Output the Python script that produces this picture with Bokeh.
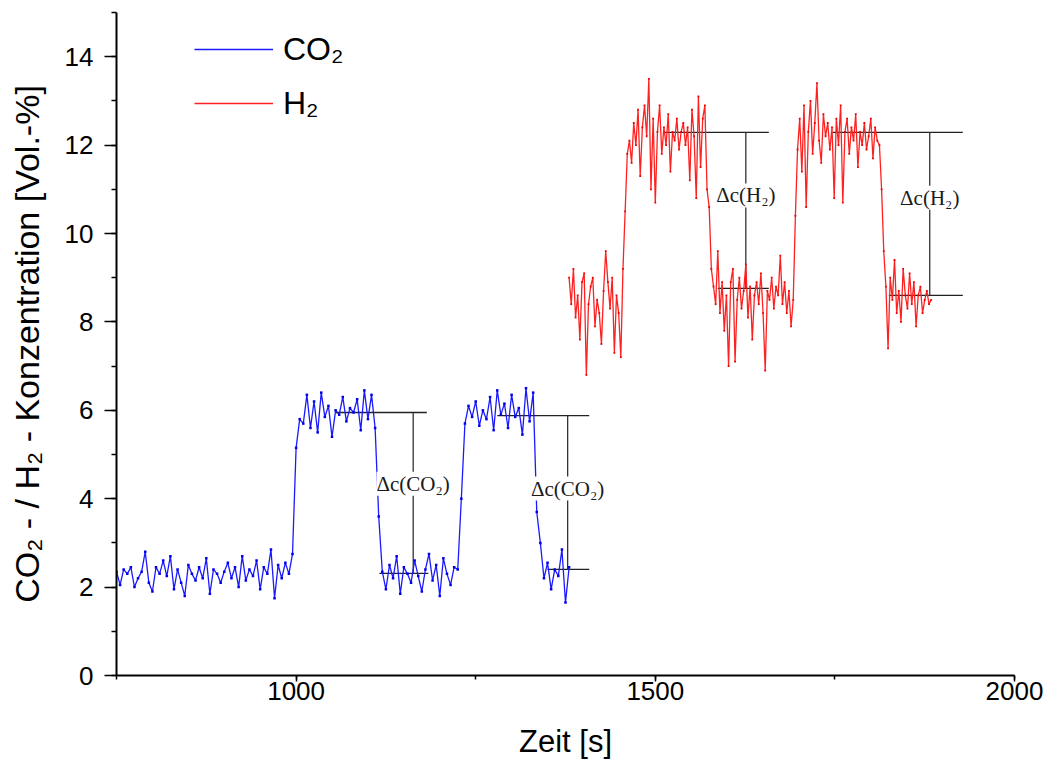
import numpy as np
from bokeh.plotting import figure
from bokeh.models import (Range1d, SingleIntervalTicker, Legend, LegendItem,
                          ColumnDataSource, LabelSet)
from bokeh.embed import file_html
from bokeh.resources import INLINE

# ---------------- data ----------------
# CO2 concentration, one sample every 5 s starting at 750 s
co2_start, co2_step = 750, 5
co2_values = [
    2.35, 2.05, 2.40, 2.30, 2.45, 2.00, 2.20, 2.35, 2.80, 2.10,
    1.90, 2.45, 2.30, 2.60, 2.25, 2.70, 1.95, 2.40, 2.10, 1.80,
    2.50, 2.30, 2.15, 2.45, 2.20, 2.65, 1.85, 2.40, 2.30, 2.10,
    2.35, 2.55, 2.20, 2.45, 2.00, 2.70, 2.15, 2.40, 2.25, 2.60,
    1.95, 2.45, 2.30, 2.85, 1.75, 2.50, 2.20, 2.55, 2.30, 2.75,
    5.15, 5.80, 5.70, 6.35, 5.60, 6.20, 5.50, 6.40, 5.85, 6.10,
    5.40, 6.00, 5.90, 6.30, 5.75, 6.05, 5.95, 6.25, 5.55, 6.45,
    5.80, 6.35, 5.60,
    3.60,
    2.35, 1.95, 2.50, 2.20, 2.70, 1.85, 2.45, 2.30, 2.10, 2.60,
    2.25, 1.90, 2.40, 2.75, 2.15, 2.50, 1.80, 2.65, 2.30, 2.05,
    2.45, 2.40,
    4.00,
    5.70, 6.10, 5.85, 6.20, 5.65, 6.00, 5.80, 6.30, 5.55, 6.45,
    5.90, 6.15, 5.60, 6.35, 5.85, 6.05, 5.45, 6.50, 5.75, 6.40,
    3.70, 3.00,
    2.20, 2.55, 1.95, 2.40, 2.25, 2.85, 1.65, 2.45,
]

# H2 concentration, one sample every 3 s starting at 1380 s
h2_start, h2_step = 1380, 3
h2_values = [
    9.0, 8.4, 9.2, 8.1, 8.6, 7.6, 8.9, 9.1, 6.8, 8.4,
    8.8, 9.0, 7.9, 8.5, 8.2, 7.5, 8.7, 9.6, 8.9, 8.3,
    9.0, 7.3, 8.6, 8.2, 7.2,
    9.2, 10.5, 11.8,
    12.1, 11.6, 12.5, 12.0, 12.8, 11.3, 12.4, 12.9, 12.2, 13.5,
    11.0, 12.6, 10.7, 12.3, 12.9, 11.8, 12.4, 12.0, 12.7, 11.4,
    12.3, 12.1, 12.6, 11.9, 12.3, 12.5, 12.0, 12.4, 11.2, 12.8,
    12.2, 10.8, 13.1, 11.5, 12.6, 12.9, 11.0,
    10.6, 9.2,
    8.8, 8.4, 9.6, 8.2, 8.9, 7.8, 8.6, 7.0, 8.9, 9.2,
    7.1, 8.5, 9.0, 8.3, 8.7, 9.3, 8.1, 8.8, 7.6, 8.6,
    8.9, 8.4, 9.1, 8.2, 6.9, 8.7, 8.5, 9.0, 8.3, 8.8,
    8.6, 9.5, 8.4, 8.9, 8.2, 8.7, 7.9, 8.5,
    10.4, 11.9,
    12.6, 11.4, 12.9, 10.6, 12.3, 13.0, 11.8, 12.5, 13.4, 12.1,
    11.6, 12.7, 12.2, 12.5, 11.9, 12.4, 10.8, 12.6, 12.0, 12.9,
    10.7, 12.3, 12.6, 11.8, 12.4, 12.1, 12.7, 11.5, 12.3, 12.0,
    12.5, 11.9, 12.2, 12.6, 11.7, 12.4, 12.1,
    12.0, 11.0, 9.6,
    8.8, 7.4, 9.0, 8.5, 9.4, 8.2, 8.7, 8.0, 9.2, 8.6,
    8.3, 9.1, 8.4, 8.9, 7.9, 8.6, 8.8, 8.2, 8.5, 8.7,
    8.4, 8.5,
]

co2_time = co2_start + co2_step * np.arange(len(co2_values))
h2_time = h2_start + h2_step * np.arange(len(h2_values))

# Delta-c brackets: upper level, lower level, their x extents, label
delta_labels = ["Δc(CO₂)", "Δc(CO₂)", "Δc(H₂)", "Δc(H₂)"]
delta_high = [5.95, 5.88, 12.29, 12.29]
delta_low = [2.31, 2.40, 8.76, 8.60]
delta_high_x0 = [1055, 1280, 1511, 1747]
delta_high_x1 = [1182, 1408, 1658, 1928]
delta_low_x0 = [1116, 1350, 1587, 1825]
delta_low_x1 = [1184, 1408, 1658, 1928]
delta_vert_x = [1163, 1378, 1626, 1882]
delta_text_y = [4.34, 4.23, 10.86, 10.81]

x_min, x_max = 750, 2000
y_min, y_max = 0, 15

# ---------------- figure ----------------
FONT = "Liberation Sans"
p = figure(width=1047, height=762,
           x_range=Range1d(x_min, x_max), y_range=Range1d(y_min, y_max),
           output_backend="svg", toolbar_location=None,
           min_border_left=116, min_border_right=33,
           min_border_top=12, min_border_bottom=87)
p.xgrid.visible = False
p.ygrid.visible = False
p.outline_line_color = None
p.background_fill_color = "white"
p.border_fill_color = "white"

# brackets
seg = ColumnDataSource(dict(hx0=delta_high_x0, hx1=delta_high_x1, hy=delta_high,
                            lx0=delta_low_x0, lx1=delta_low_x1, ly=delta_low,
                            vx=delta_vert_x))
p.segment(x0="hx0", y0="hy", x1="hx1", y1="hy", source=seg,
          line_color="#222222", line_width=1.3)
p.segment(x0="lx0", y0="ly", x1="lx1", y1="ly", source=seg,
          line_color="#222222", line_width=1.3)
p.segment(x0="vx", y0="ly", x1="vx", y1="hy", source=seg,
          line_color="#333333", line_width=1.3)

# data traces
co2_line = p.line(co2_time, co2_values, line_color="#1a1aff", line_width=1.3)
p.scatter(co2_time, co2_values, marker="square", size=2.5,
          color="#0000ee", line_width=0)
h2_line = p.line(h2_time, h2_values, line_color="#ff2020", line_width=1.3)
p.scatter(h2_time, h2_values, marker="square", size=1.8,
          color="#ee0000", line_width=0)

# bracket labels
lab = ColumnDataSource(dict(x=delta_vert_x, y=delta_text_y, t=delta_labels))
p.add_layout(LabelSet(x="x", y="y", text="t", source=lab,
                      text_align="center", text_baseline="middle",
                      text_font="Liberation Serif", text_font_size="21px",
                      text_color="#1a1a1a",
                      background_fill_color="white"))

# axes
p.xaxis.ticker = SingleIntervalTicker(interval=500, num_minor_ticks=2)
p.yaxis.ticker = SingleIntervalTicker(interval=2, num_minor_ticks=2)
for ax in (p.xaxis, p.yaxis):
    ax.axis_line_width = 2
    ax.axis_line_color = "black"
    ax.major_tick_line_color = "black"
    ax.minor_tick_line_color = "black"
    ax.major_tick_line_width = 1.5
    ax.minor_tick_line_width = 1.5
    ax.major_tick_in = 0
    ax.minor_tick_in = 0
    ax.major_label_text_font = FONT
    ax.major_label_text_font_size = "26px"
    ax.major_label_text_color = "black"
    ax.axis_label_text_font = FONT
    ax.axis_label_text_font_style = "normal"
    ax.axis_label_text_color = "black"

p.xaxis.major_tick_out = 6
p.xaxis.minor_tick_out = 4
p.xaxis.major_label_standoff = 0
p.xaxis.axis_label = "Zeit [s]"
p.xaxis.axis_label_text_font_size = "31px"
p.xaxis.axis_label_standoff = 21

p.yaxis.major_tick_out = 12
p.yaxis.minor_tick_out = 5
p.yaxis.major_label_standoff = 11
p.yaxis.axis_label = "CO₂ - / H₂ - Konzentration [Vol.-%]"
p.yaxis.axis_label_text_font_size = "34px"
p.yaxis.axis_label_standoff = 16

legend = Legend(items=[LegendItem(label="CO₂", renderers=[co2_line]),
                       LegendItem(label="H₂", renderers=[h2_line])],
                location=(78, 545), orientation="vertical",
                glyph_width=79, glyph_height=54, label_height=54,
                label_standoff=10, spacing=0, padding=0, margin=0,
                border_line_color=None, background_fill_alpha=0,
                label_text_font=FONT, label_text_font_size="32px",
                label_text_color="black")
p.add_layout(legend)

open("out.html", "w").write(file_html(p, INLINE))
